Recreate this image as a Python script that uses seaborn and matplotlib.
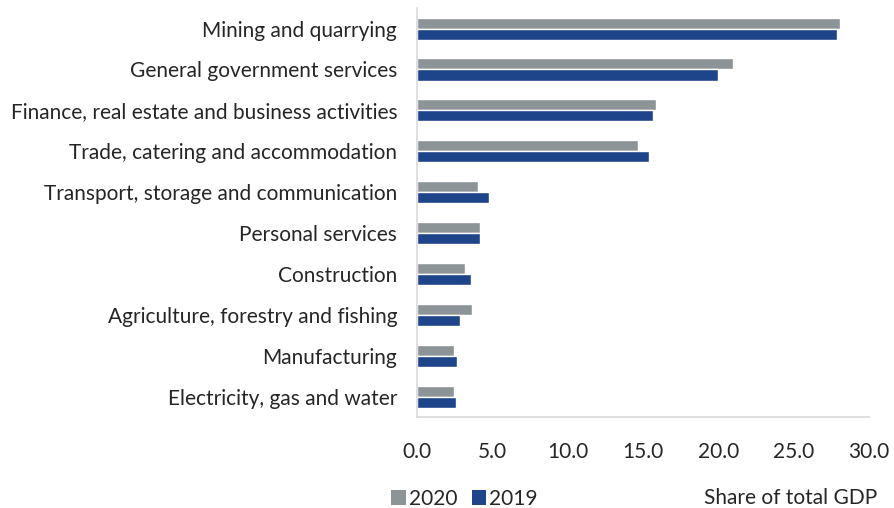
import matplotlib
matplotlib.use("Agg")
import matplotlib.pyplot as plt
import seaborn as sns
import pandas as pd
from matplotlib.patches import Patch

categories = [
    "Mining and quarrying",
    "General government services",
    "Finance, real estate and business activities",
    "Trade, catering and accommodation",
    "Transport, storage and communication",
    "Personal services",
    "Construction",
    "Agriculture, forestry and fishing",
    "Manufacturing",
    "Electricity, gas and water",
]
values_2020 = [28.1, 21.0, 15.9, 14.7, 4.1, 4.2, 3.2, 3.7, 2.5, 2.5]
values_2019 = [27.9, 20.0, 15.7, 15.4, 4.8, 4.2, 3.6, 2.9, 2.7, 2.6]
series = ["2020", "2019"]
x_ticks = [0, 5, 10, 15, 20, 25, 30]

colors = {"2020": "#8c9497", "2019": "#1e4589"}

df = pd.DataFrame({
    "Sector": categories * 2,
    "Share": values_2020 + values_2019,
    "Year": ["2020"] * len(categories) + ["2019"] * len(categories),
})

sns.set_style("white")
plt.rcParams["font.family"] = ["Lato", "DejaVu Sans"]
FS = 15

fig = plt.figure(figsize=(8.94, 5.08), dpi=100)
ax = fig.add_axes([0.466, 0.179, 0.506, 0.805])

sns.barplot(
    data=df, x="Share", y="Sector", hue="Year", hue_order=series,
    order=categories, palette=colors, orient="h", width=0.54,
    saturation=1, ax=ax, legend=False,
)

ax.set_xlim(0, 30)
ax.set_ylim(len(categories) - 0.5, -0.5)
ax.set_xticks(x_ticks)
ax.set_xticklabels([f"{t:.1f}" for t in x_ticks], fontsize=FS, color="#262626")
ax.tick_params(axis="y", labelsize=FS, labelcolor="#262626", length=0, pad=14)
ax.tick_params(axis="x", length=0, pad=18)
ax.set_xlabel("")
ax.set_ylabel("")

for side in ["top", "right"]:
    ax.spines[side].set_visible(False)
for side in ["left", "bottom"]:
    ax.spines[side].set_color("#d9d9d9")
    ax.spines[side].set_linewidth(1.2)

handles = [Patch(facecolor=colors[s], edgecolor="none", label=s) for s in series]
fig.legend(
    handles=handles, loc="center left", bbox_to_anchor=(0.428, 0.018),
    ncol=2, frameon=False, fontsize=FS, handlelength=0.7, handleheight=0.7,
    handletextpad=0.15, columnspacing=0.7, borderaxespad=0,
)
fig.text(0.981, 0.02, "Share of total GDP", ha="right", va="center",
         fontsize=FS, color="#262626")

fig.savefig("out.png", dpi=100)
